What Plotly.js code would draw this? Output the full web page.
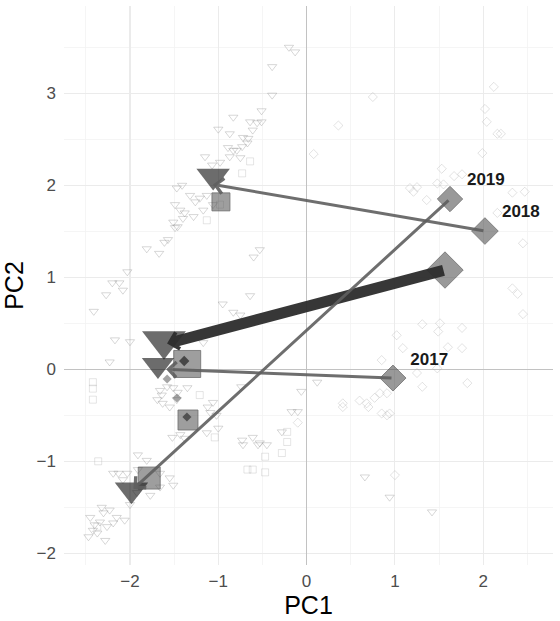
<!DOCTYPE html>
<html>
<head>
<meta charset="utf-8">
<script src="https://cdn.plot.ly/plotly-3.0.1.min.js"></script>
<style>html,body{margin:0;padding:0;background:#fff;}#plot{width:560px;height:621px;}</style>
</head>
<body>
<div id="plot"></div>
<script>
// ---- background scores (open markers) ----
var triX = [-0.20,-0.13,-0.39,-0.39,-0.51,-0.83,-0.64,-0.56,-0.51,-1.00,-0.87,-0.72,-0.66,-0.61,-0.67,-0.89,-0.83,-0.79,-0.73,-1.15,-0.98,-0.87,-0.75,-1.07,
  -1.47,-1.41,-1.32,-1.26,-1.21,-1.13,-1.49,-1.43,-1.38,-1.28,-1.17,-1.06,-1.51,-1.46,-1.40,-1.49,-1.81,-1.67,-1.61,-1.57,
  -2.03,-2.20,-2.12,-2.08,-2.27,-2.41,-0.53,-0.60,-0.64,-0.95,-0.83,-0.75,-2.17,-2.00,-2.23,-1.17,
  -1.66,-1.58,-1.51,-1.46,-1.35,-1.69,-1.63,-1.55,-1.64,-1.47,-1.06,-1.12,-1.02,-1.00,-1.13,-1.43,-1.52,-1.38,-1.09,
  -0.74,-0.06,0.12,-0.17,-0.10,-0.28,-0.73,-0.61,-0.55,-0.53,-0.45,-0.72,0.66,0.94,1.42,
  -2.13,-2.03,-1.91,-1.81,-1.66,-1.55,-1.51,-1.66,-1.77,-1.92,-2.19,-2.08,-1.91,-2.00,
  -2.45,-2.42,-2.30,-2.23,-2.15,-2.47,-2.37,-2.26,-2.19,-2.32,-2.34,-2.40,-2.28,-2.06];
var triY = [3.50,3.45,3.29,2.98,2.81,2.74,2.69,2.68,2.69,2.61,2.56,2.52,2.51,2.60,2.46,2.41,2.38,2.38,2.42,2.31,2.25,2.31,2.30,2.22,
  1.97,2.00,1.89,1.82,1.86,1.89,1.79,1.73,1.70,1.66,1.73,1.79,1.60,1.55,1.64,1.54,1.31,1.26,1.38,1.41,
  1.06,0.94,0.94,0.86,0.81,0.63,1.30,1.22,0.80,0.71,0.62,0.59,0.32,0.30,0.08,0.29,
  -0.23,-0.19,-0.20,-0.25,-0.20,-0.33,-0.37,-0.41,-0.28,-0.33,-0.36,-0.41,-0.50,-0.64,-0.69,-0.71,-0.74,-0.75,-0.47,
  -0.19,-0.24,-0.14,-0.46,-0.46,-0.68,-0.77,-0.74,-0.82,-0.80,-0.82,-0.82,-1.17,-1.39,-1.55,
  -1.13,-1.13,-1.09,-0.99,-1.13,-1.18,-1.26,-1.28,-1.37,-1.34,-1.13,-1.20,-0.93,-1.47,
  -1.61,-1.75,-1.56,-1.53,-1.61,-1.82,-1.78,-1.71,-1.67,-1.50,-1.66,-1.69,-1.86,-1.64];

var sqX = [-0.64,-0.73,-1.13,-0.98,-2.42,-2.42,-2.42,-2.36,-0.47,-0.67,-0.61,-0.47,-1.04,-0.22,-0.22,-0.28,-2.37,-1.21];
var sqY = [2.26,2.13,1.62,1.79,-0.14,-0.21,-0.33,-1.00,-0.95,-1.09,-1.09,-1.12,-0.74,-0.68,-0.79,-0.91,-1.71,-0.28];

var diaX = [0.75,0.36,0.08,2.12,2.02,2.04,2.16,2.20,1.99,1.53,1.48,1.55,1.67,1.76,1.25,1.17,1.21,1.36,2.33,2.47,2.45,2.33,2.45,2.16,
  1.51,1.31,1.76,1.02,1.09,1.49,0.85,1.60,1.76,1.82,1.48,1.31,0.91,1.25,-0.10,0.41,0.41,0.60,0.68,0.70,0.77,0.83,0.85,0.91,0.94,1.00,2.39];
var diaY = [2.96,2.65,2.34,3.07,2.83,2.69,2.56,2.56,2.35,2.18,2.02,2.01,2.10,2.12,1.98,1.97,1.93,1.84,1.92,1.93,1.37,0.88,0.60,1.70,
  0.50,0.49,0.45,0.37,0.23,0.41,0.10,0.24,0.23,-0.15,0.01,-0.19,-0.26,-0.04,-0.58,-0.37,-0.41,-0.34,-0.37,-0.41,-0.31,-0.26,-0.48,-0.50,-0.48,-1.15,0.82];

// ---- yearly centroids ----
var centTriX = [-1.615,-1.683,-1.058,-1.983];
var centTriY = [0.31,0.047,2.10,-1.31];
var centTriSize = [38,28,29,29];

var centSqX = [-1.352,-1.343,-0.970,-1.782];
var centSqY = [0.058,-0.551,1.82,-1.182];
var centSqSize = [27,20,18,22];

var centDiaX = [0.978,1.567,2.019,1.624];
var centDiaY = [-0.095,1.079,1.503,1.851];
var centDiaSize = [20,28,20.5,19.5];

var smallDiaX = [-1.386,-1.579,-1.468,-1.355];
var smallDiaY = [0.091,-0.105,-0.312,-0.518];
var smallDiaSize = [8,7,7,7];
var smallDiaCol = ['rgba(20,20,20,0.9)','rgba(80,80,80,0.75)','rgba(80,80,80,0.75)','rgba(30,30,30,0.85)'];

// ---- trajectories (tail at diamond, tip at triangle) ----
var arrTailX = [0.978,1.567,2.019,1.624];
var arrTailY = [-0.095,1.079,1.503,1.851];
var arrTipX = [-1.59,-1.58,-1.06,-1.96];
var arrTipY = [0.0,0.28,2.01,-1.30];
var arrWidth = [3,11,3,3];
var arrSize = [1.0,0.3,1.0,1.0];
var arrCol = ['rgba(95,95,95,0.9)','rgba(45,45,45,0.95)','rgba(95,95,95,0.9)','rgba(95,95,95,0.9)'];

// ---- year labels ----
var labText = ['2017','2018','2019'];
var labX = [1.388,2.426,2.030];
var labY = [0.088,1.699,2.045];

var FONT = 'Liberation Sans, Arial, sans-serif';

var traces = [
  {x: sqX, y: sqY, mode: 'markers', type: 'scatter',
   marker: {symbol: 'square-open', size: 7, color: 'rgba(170,170,170,0.3)', line: {width: 1, color: 'rgba(170,170,170,0.3)'}}},
  {x: diaX, y: diaY, mode: 'markers', type: 'scatter',
   marker: {symbol: 'diamond-open', size: 7, color: 'rgba(160,160,160,0.3)', line: {width: 1, color: 'rgba(160,160,160,0.3)'}}},
  {x: triX, y: triY, mode: 'markers', type: 'scatter',
   marker: {symbol: 'triangle-down-open', size: 8, color: 'rgba(150,150,150,0.38)', line: {width: 1, color: 'rgba(150,150,150,0.38)'}}},
  {x: centSqX, y: centSqY, mode: 'markers', type: 'scatter',
   marker: {symbol: 'square', size: centSqSize, color: 'rgba(80,80,80,0.78)', line: {width: 1, color: 'rgba(50,50,50,0.8)'}}},
  {x: centDiaX, y: centDiaY, mode: 'markers', type: 'scatter',
   marker: {symbol: 'diamond', size: centDiaSize, color: 'rgba(85,85,85,0.85)', line: {width: 1, color: 'rgba(60,60,60,0.85)'}}},
  {x: centTriX, y: centTriY, mode: 'markers', type: 'scatter',
   marker: {symbol: 'triangle-down', size: centTriSize, color: 'rgba(22,22,22,0.9)', line: {width: 0}}},
  {x: smallDiaX, y: smallDiaY, mode: 'markers', type: 'scatter',
   marker: {symbol: 'diamond', size: smallDiaSize, color: smallDiaCol, line: {width: 0}}},
  {x: labX, y: labY, text: labText, mode: 'text', type: 'scatter',
   textfont: {family: FONT, size: 17, color: '#1a1a1a', weight: 'bold'}}
];

var annotations = [];
for (var i = 0; i < arrTailX.length; i++) {
  annotations.push({
    x: arrTipX[i], y: arrTipY[i], ax: arrTailX[i], ay: arrTailY[i],
    xref: 'x', yref: 'y', axref: 'x', ayref: 'y',
    text: '', showarrow: true, arrowhead: 4, arrowsize: arrSize[i],
    arrowwidth: arrWidth[i], arrowcolor: arrCol[i], standoff: 0, startstandoff: 0
  });
}

var axisCommon = {
  showgrid: true, gridcolor: '#ebebeb', gridwidth: 1.1,
  zeroline: true, zerolinecolor: '#c2c2c2', zerolinewidth: 1.5,
  showline: false, ticks: '', tickmode: 'linear', tick0: 0, dtick: 1,
  minor: {tick0: 0, dtick: 0.5, showgrid: true, gridcolor: '#f2f2f2', gridwidth: 0.8},
  tickfont: {family: FONT, size: 17, color: '#4d4d4d'}
};

var layout = {
  width: 560, height: 621,
  margin: {l: 64, r: 7, t: 6, b: 56},
  paper_bgcolor: '#ffffff', plot_bgcolor: '#ffffff',
  showlegend: false,
  xaxis: Object.assign({}, axisCommon, {
    range: [-2.747, 2.79], ticklabelstandoff: 4,
    title: {text: 'PC1', font: {family: FONT, size: 25, color: '#000'}, standoff: 5}
  }),
  yaxis: Object.assign({}, axisCommon, {
    range: [-2.127, 3.949], ticklabelstandoff: 7,
    title: {text: 'PC2', font: {family: FONT, size: 25, color: '#000'}, standoff: 10}
  }),
  annotations: annotations
};

Plotly.newPlot('plot', traces, layout, {staticPlot: true, displayModeBar: false});
</script>
</body>
</html>
